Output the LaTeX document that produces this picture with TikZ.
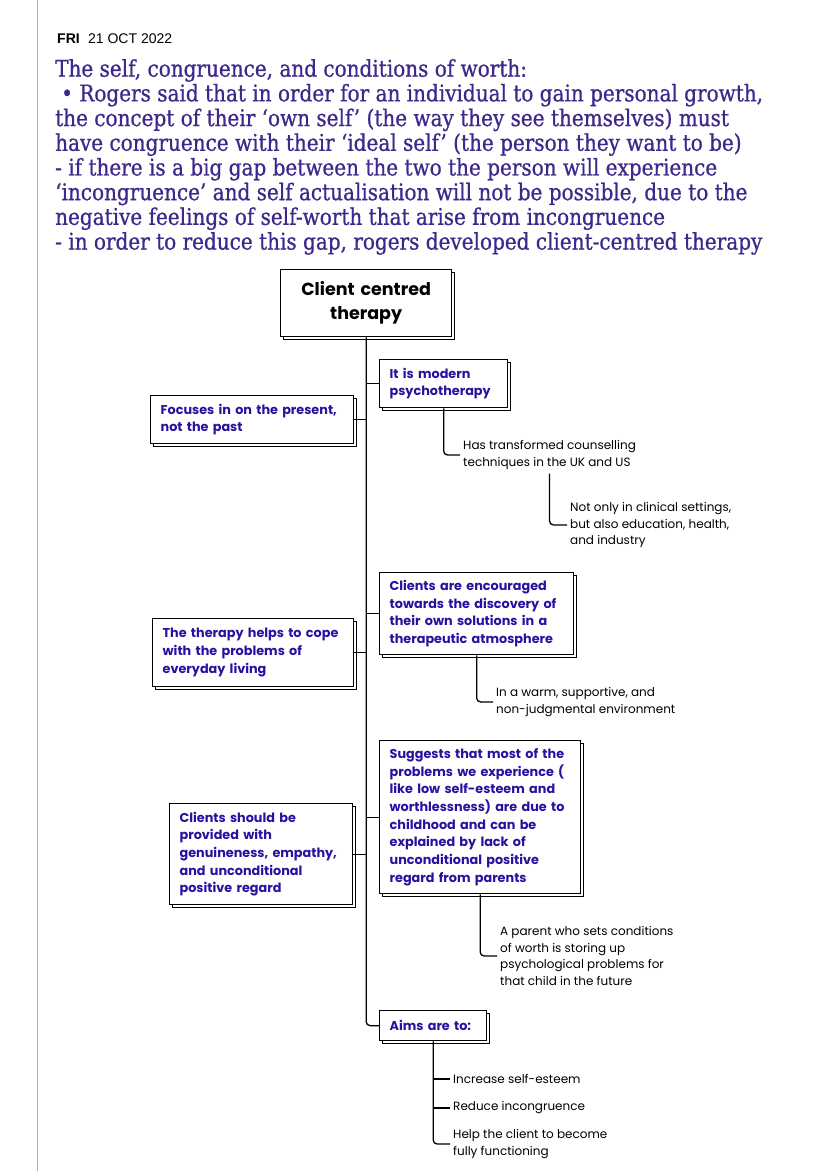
\documentclass[tikz,border=0pt]{standalone}
\usepackage{fontspec}
\setmainfont{Poppins}
\newfontfamily\notefont[FakeStretch=0.87,FakeBold=0.8]{DejaVu Serif}
\newfontfamily\datefont{Liberation Sans}
\usetikzlibrary{positioning,shadows}
\definecolor{ink}{RGB}{38,18,160}
\definecolor{notecol}{RGB}{62,40,140}
\tikzstyle{box} = [draw, line width=1.3pt, fill=white, anchor=north west, align=left, inner xsep=10pt, inner ysep=6pt, text=ink, font=\bfseries\fontsize{12.8}{17.7}\selectfont, general shadow={draw, line width=1.3pt, fill=white, shadow xshift=3pt, shadow yshift=-3pt}]
\tikzstyle{note} = [anchor=west, align=left, inner xsep=3pt, inner ysep=0pt, font=\fontsize{12}{16.5}\selectfont]
\tikzstyle{link} = [line width=1.3pt, rounded corners=4pt]

\begin{document}
\begin{tikzpicture}[x=1pt,y=-1pt]
\useasboundingbox (0,0) rectangle (828,1171);
\draw[gray!60, line width=0.8pt] (37,0) -- (37,1171);

\node[anchor=base west, inner sep=0, font=\datefont\fontsize{14}{14}\selectfont] (date) at (57,43) {\textbf{FRI}\hspace{0.6em}21 OCT 2022};
\node[anchor=north west, inner sep=0, align=left, text=notecol, font=\notefont\fontsize{23}{24.7}\selectfont] (notes) at (55,59) {The self, congruence, and conditions of worth:\\
\hspace*{6pt}• Rogers said that in order for an individual to gain personal growth,\\
the concept of their ‘own self’ (the way they see themselves) must\\
have congruence with their ‘ideal self’ (the person they want to be)\\
- if there is a big gap between the two the person will experience\\
‘incongruence’ and self actualisation will not be possible, due to the\\
negative feelings of self-worth that arise from incongruence\\
- in order to reduce this gap, rogers developed client-centred therapy};

\node[box, text=black, align=center, text width=151pt, minimum height=67pt, font=\bfseries\fontsize{17.5}{24}\selectfont] (therapy) at (280,269) {Client centred\\therapy};

\node[box, text width=108pt, minimum height=48pt] (modern) at (379,359) {It is modern\\psychotherapy};
\node[box, text width=183pt, minimum height=48pt] (present) at (150,395) {Focuses in on the present,\\not the past};
\node[box, text width=174pt, minimum height=82pt] (encouraged) at (379,572) {Clients are encouraged\\towards the discovery of\\their own solutions in a\\therapeutic atmosphere};
\node[box, text width=181pt, minimum height=68pt] (cope) at (152,618) {The therapy helps to cope\\with the problems of\\everyday living};
\node[box, text width=181pt, minimum height=153pt] (suggests) at (379,740) {Suggests that most of the\\problems we experience (\\like low self-esteem and\\worthlessness) are due to\\childhood and can be\\explained by lack of\\unconditional positive\\regard from parents};
\node[box, text width=163pt, minimum height=101pt] (genuine) at (169,803) {Clients should be\\provided with\\genuineness, empathy,\\and unconditional\\positive regard};
\node[box, text width=87pt, minimum height=30pt] (aims) at (379,1010) {Aims are to:};

\node[note] (transformed) at (460,455) {Has transformed counselling\\techniques in the UK and US};
\node[note] (settings) at (567,525) {Not only in clinical settings,\\but also education, health,\\and industry};
\node[note] (warm) at (493,702) {In a warm, supportive, and\\non-judgmental environment};
\node[note] (parent) at (497,956) {A parent who sets conditions\\of worth is storing up\\psychological problems for\\that child in the future};
\node[note] (esteem) at (450,1079) {Increase self-esteem};
\node[note, below=29pt of esteem.west, anchor=west] (incongruence) {Reduce incongruence};
\node[note, below=36pt of incongruence.west, anchor=west] (functioning) {Help the client to become\\fully functioning};

% trunk and branches
\draw[link] (therapy.south) |- (aims.west);
\draw[link] (modern.west) -- (modern.west -| therapy.south);
\draw[link] (present.east) -- (present.east -| therapy.south);
\draw[link] (encouraged.west) -- (encouraged.west -| therapy.south);
\draw[link] (cope.east) -- (cope.east -| therapy.south);
\draw[link] (suggests.west) -- (suggests.west -| therapy.south);
\draw[link] (genuine.east) -- (genuine.east -| therapy.south);

\draw[link] (modern.south) |- (transformed.west);
\draw[link, shorten <=4pt] (transformed.south) |- (settings.west);
\draw[link] (encouraged.south) |- (warm.west);
\draw[link] (suggests.south) |- (parent.west);
\draw[link] (aims.south) |- (functioning.west);
\draw[link] (esteem.west) -- (esteem.west -| aims.south);
\draw[link] (incongruence.west) -- (incongruence.west -| aims.south);
\end{tikzpicture}
\end{document}
